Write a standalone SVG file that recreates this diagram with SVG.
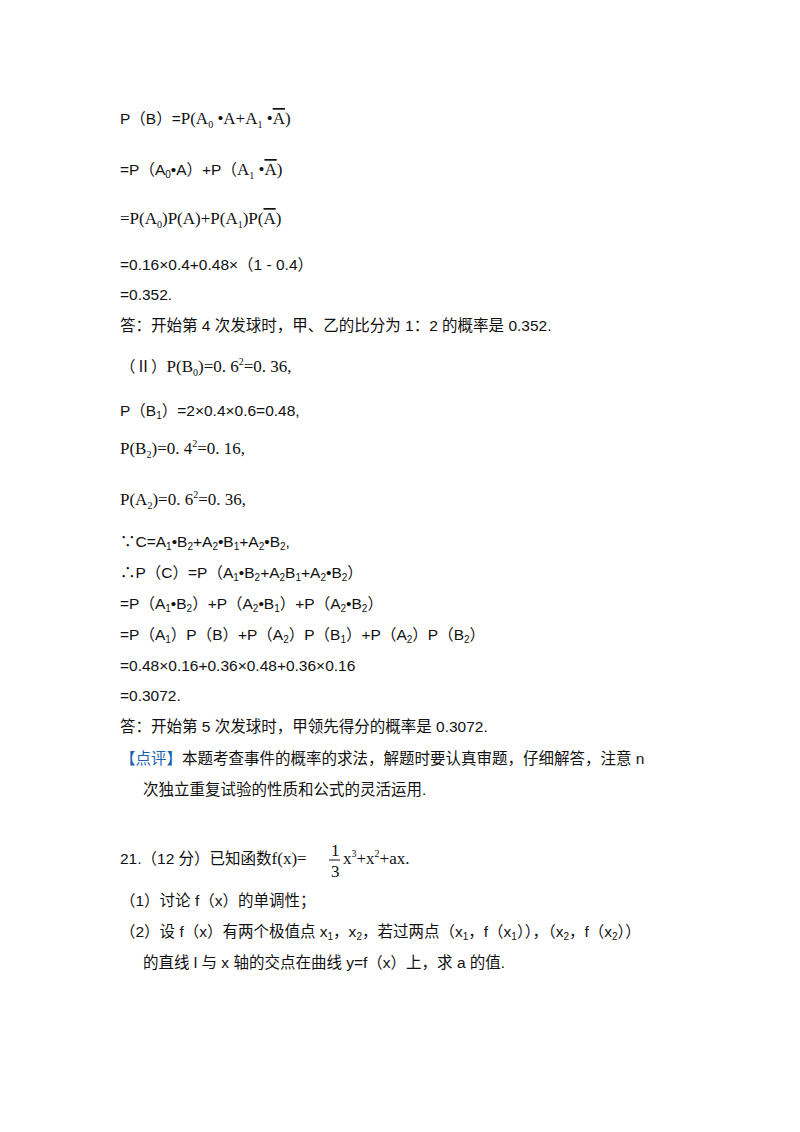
<svg xmlns="http://www.w3.org/2000/svg" width="800" height="1132" viewBox="0 0 800 1132">
<style>
text{font-family:"Liberation Sans","Noto Sans CJK SC",sans-serif;font-size:15.5px;fill:#111}
.s{font-family:"Liberation Serif","Noto Sans CJK SC",serif;font-size:17px}
.sub{font-size:10px}
.b{fill:#1a5fb4}
.o{text-decoration:overline}
</style>
<rect width="800" height="1132" fill="#fff"/>
<g id="lines">
<text x="120" y="124">P（B）=<tspan class="s">P(A<tspan class="sub" dy="4">0</tspan><tspan dy="-4"> •A+A</tspan><tspan class="sub" dy="4">1</tspan><tspan dy="-4"> •</tspan><tspan class="o">A</tspan>)</tspan></text>
<text x="120" y="175">=P（A<tspan class="sub" dy="3">0</tspan><tspan dy="-3">•A）+P（</tspan><tspan class="s">A<tspan class="sub" dy="4">1</tspan><tspan dy="-4"> •</tspan><tspan class="o">A</tspan>)</tspan></text>
<text x="120" y="224" class="s">=P(A<tspan class="sub" dy="4">0</tspan><tspan dy="-4">)P(A)+P(A</tspan><tspan class="sub" dy="4">1</tspan><tspan dy="-4">)P(</tspan><tspan class="o">A</tspan>)</text>
<text x="120" y="270">=0.16×0.4+0.48×（1 - 0.4）</text>
<text x="120" y="300">=0.352.</text>
<text x="120" y="331">答：开始第 4 次发球时，甲、乙的比分为 1：2 的概率是 0.352.</text>
<text x="120" y="372">（Ⅱ）<tspan class="s">P(B<tspan class="sub" dy="4">0</tspan><tspan dy="-4">)=0. 6</tspan><tspan class="sub" dy="-7">2</tspan><tspan dy="7">=0. 36,</tspan></tspan></text>
<text x="120" y="416">P（B<tspan class="sub" dy="3">1</tspan><tspan dy="-3">）=2×0.4×0.6=0.48,</tspan></text>
<text x="120" y="454" class="s">P(B<tspan class="sub" dy="4">2</tspan><tspan dy="-4">)=0. 4</tspan><tspan class="sub" dy="-7">2</tspan><tspan dy="7">=0. 16,</tspan></text>
<text x="120" y="505" class="s">P(A<tspan class="sub" dy="4">2</tspan><tspan dy="-4">)=0. 6</tspan><tspan class="sub" dy="-7">2</tspan><tspan dy="7">=0. 36,</tspan></text>
<text x="120" y="547">∵C=A<tspan class="sub" dy="3">1</tspan><tspan dy="-3">•B</tspan><tspan class="sub" dy="3">2</tspan><tspan dy="-3">+A</tspan><tspan class="sub" dy="3">2</tspan><tspan dy="-3">•B</tspan><tspan class="sub" dy="3">1</tspan><tspan dy="-3">+A</tspan><tspan class="sub" dy="3">2</tspan><tspan dy="-3">•B</tspan><tspan class="sub" dy="3">2</tspan><tspan dy="-3">,</tspan></text>
<text x="120" y="578">∴P（C）=P（A<tspan class="sub" dy="3">1</tspan><tspan dy="-3">•B</tspan><tspan class="sub" dy="3">2</tspan><tspan dy="-3">+A</tspan><tspan class="sub" dy="3">2</tspan><tspan dy="-3">B</tspan><tspan class="sub" dy="3">1</tspan><tspan dy="-3">+A</tspan><tspan class="sub" dy="3">2</tspan><tspan dy="-3">•B</tspan><tspan class="sub" dy="3">2</tspan><tspan dy="-3">）</tspan></text>
<text x="120" y="609">=P（A<tspan class="sub" dy="3">1</tspan><tspan dy="-3">•B</tspan><tspan class="sub" dy="3">2</tspan><tspan dy="-3">）+P（A</tspan><tspan class="sub" dy="3">2</tspan><tspan dy="-3">•B</tspan><tspan class="sub" dy="3">1</tspan><tspan dy="-3">）+P（A</tspan><tspan class="sub" dy="3">2</tspan><tspan dy="-3">•B</tspan><tspan class="sub" dy="3">2</tspan><tspan dy="-3">）</tspan></text>
<text x="120" y="640">=P（A<tspan class="sub" dy="3">1</tspan><tspan dy="-3">）P（B）+P（A</tspan><tspan class="sub" dy="3">2</tspan><tspan dy="-3">）P（B</tspan><tspan class="sub" dy="3">1</tspan><tspan dy="-3">）+P（A</tspan><tspan class="sub" dy="3">2</tspan><tspan dy="-3">）P（B</tspan><tspan class="sub" dy="3">2</tspan><tspan dy="-3">）</tspan></text>
<text x="120" y="671">=0.48×0.16+0.36×0.48+0.36×0.16</text>
<text x="120" y="701">=0.3072.</text>
<text x="120" y="732">答：开始第 5 次发球时，甲领先得分的概率是 0.3072.</text>
<text x="120" y="764"><tspan class="b">【点评】</tspan>本题考查事件的概率的求法，解题时要认真审题，仔细解答，注意 n</text>
<text x="143" y="795">次独立重复试验的性质和公式的灵活运用.</text>
<text x="120" y="864">21.（12 分）已知函数<tspan class="s">f(x)=</tspan></text>
<text x="331" y="856" class="s">1</text>
<line x1="329" y1="860" x2="340" y2="860" stroke="#111"/>
<text x="331" y="877" class="s">3</text>
<text x="343" y="864" class="s">x<tspan class="sub" dy="-7">3</tspan><tspan dy="7">+x</tspan><tspan class="sub" dy="-7">2</tspan><tspan dy="7">+ax.</tspan></text>
<text x="120" y="906">（1）讨论 f（x）的单调性；</text>
<text x="120" y="937">（2）设 f（x）有两个极值点 x<tspan class="sub" dy="3">1</tspan><tspan dy="-3">，x</tspan><tspan class="sub" dy="3">2</tspan><tspan dy="-3">，若过两点（x</tspan><tspan class="sub" dy="3">1</tspan><tspan dy="-3">，f（x</tspan><tspan class="sub" dy="3">1</tspan><tspan dy="-3">）），（x</tspan><tspan class="sub" dy="3">2</tspan><tspan dy="-3">，f（x</tspan><tspan class="sub" dy="3">2</tspan><tspan dy="-3">））</tspan></text>
<text x="143" y="968">的直线 l 与 x 轴的交点在曲线 y=f（x）上，求 a 的值.</text>
</g>
</svg>
